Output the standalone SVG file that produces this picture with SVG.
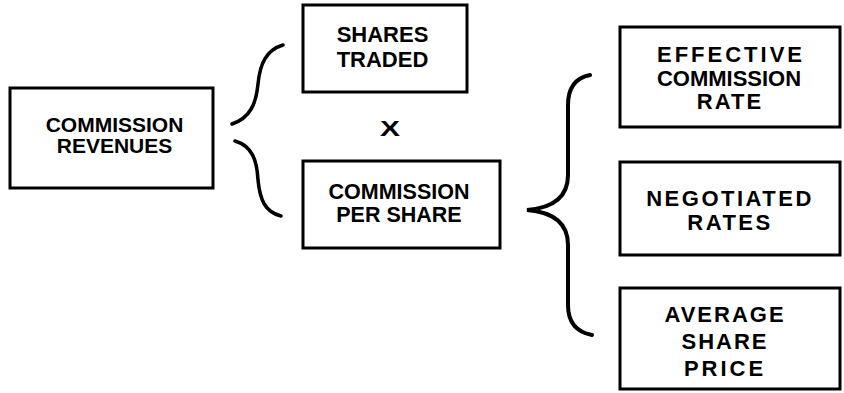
<svg xmlns="http://www.w3.org/2000/svg" width="844" height="393" viewBox="0 0 844 393">
<style>
.box{fill:#fff;stroke:#000;stroke-width:3;stroke-linejoin:miter}
.lbl{font-family:"Liberation Sans",Arial,sans-serif;font-weight:bold;font-size:22px;fill:#000;text-anchor:middle}
.br{fill:none;stroke:#000;stroke-width:3.5;stroke-linecap:round}
</style>
<rect width="844" height="393" fill="#fff"/>
<g id="connectors">
<path class="br" d="M283,45 C266,50 260,64 258,84 C256,104 250,118 232,124"/>
<path class="br" d="M235,141 C252,146 257,160 258,180 C260,200 265,212 281,216"/>
<path class="br" style="stroke-width:4" d="M590,75 C575,78 568,88 568,105 L568,175 C568,198 552,208 527,210 C552,212 568,222 568,245 L568,305 C568,322 576,332 592,335"/>
<text class="lbl" x="390" y="136" textLength="20" lengthAdjust="spacingAndGlyphs">X</text>
</g>
<g id="commission-revenues">
<rect class="box" x="10" y="88" width="203" height="100"/>
<text class="lbl" style="font-size:21px" x="114.5" y="132">COMMISSION</text>
<text class="lbl" style="font-size:21px" x="114.5" y="153">REVENUES</text>
</g>
<g id="shares-traded">
<rect class="box" x="303" y="5" width="164" height="87"/>
<text class="lbl" x="382.5" y="42">SHARES</text>
<text class="lbl" x="382.5" y="67">TRADED</text>
</g>
<g id="commission-per-share">
<rect class="box" x="303" y="161" width="197" height="87"/>
<text class="lbl" style="font-size:21.5px" x="399" y="199">COMMISSION</text>
<text class="lbl" style="font-size:21.5px" x="399" y="222">PER SHARE</text>
</g>
<g id="effective-commission-rate">
<rect class="box" x="620" y="27" width="220" height="100"/>
<text class="lbl" x="731" y="62" style="letter-spacing:3px">EFFECTIVE</text>
<text class="lbl" x="729" y="86">COMMISSION</text>
<text class="lbl" x="730" y="109" style="letter-spacing:2px">RATE</text>
</g>
<g id="negotiated-rates">
<rect class="box" x="620" y="162" width="220" height="93"/>
<text class="lbl" x="730" y="206" style="letter-spacing:2.5px">NEGOTIATED</text>
<text class="lbl" x="730" y="230" style="letter-spacing:2.5px">RATES</text>
</g>
<g id="average-share-price">
<rect class="box" x="620" y="288" width="220" height="101"/>
<text class="lbl" x="725" y="322" style="letter-spacing:2px">AVERAGE</text>
<text class="lbl" x="725" y="349" style="letter-spacing:2px">SHARE</text>
<text class="lbl" x="725" y="376" style="letter-spacing:3px">PRICE</text>
</g>
</svg>
